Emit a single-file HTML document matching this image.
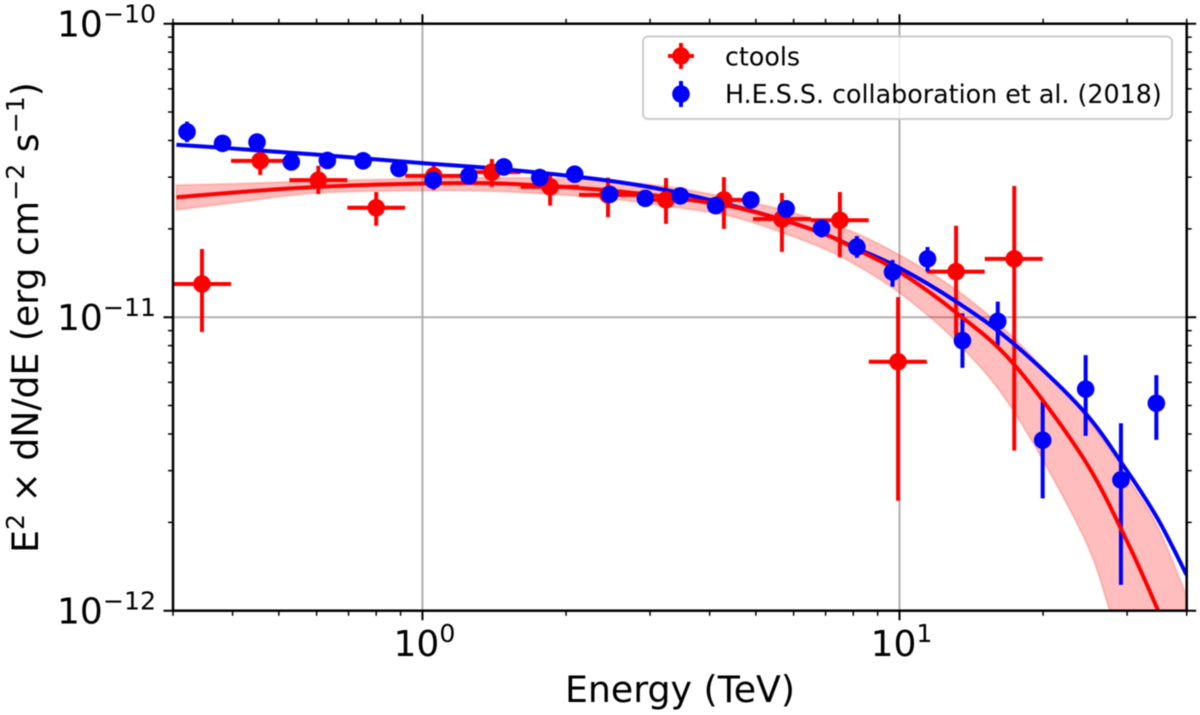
<!DOCTYPE html>
<html lang="en">
<head>
<meta charset="utf-8">
<title>Energy spectrum</title>
<style>
html,body{margin:0;padding:0;background:#fff;width:1200px;height:715px;overflow:hidden}
svg{display:block;filter:blur(0.45px)}
text{font-family:"DejaVu Sans","Liberation Sans",sans-serif;fill:#000}
</style>
</head>
<body>
<svg id="chart" xmlns="http://www.w3.org/2000/svg" width="1200" height="715" viewBox="0 0 1200 715">
  <defs><clipPath id="plot-clip"><rect x="173" y="23.7" width="1013.7" height="587"/></clipPath></defs>
  <rect x="0" y="0" width="1200" height="715" fill="#fff"/>
  <g id="grid"></g>
  <g id="marks" clip-path="url(#plot-clip)"></g>
  <g id="ticks"></g>
  <rect x="173" y="23.7" width="1013.7" height="587" fill="none" stroke="#000" stroke-width="2.5"/>
  <g id="tick-labels"></g>
  <text x="680" y="702" font-size="36.3" text-anchor="middle">Energy (TeV)</text>
  <text transform="translate(38,317.5) rotate(-90)" font-size="36.2" text-anchor="middle">E<tspan font-size="25.2" dy="-14">2</tspan><tspan dy="14"> × dN/dE (erg cm</tspan><tspan font-size="25.2" dy="-14">−2</tspan><tspan dy="14"> s</tspan><tspan font-size="25.2" dy="-14">−1</tspan><tspan dy="14">)</tspan></text>
  <g>
    <rect x="643" y="36.5" width="529" height="82.5" rx="5" ry="5" fill="#fff" fill-opacity="0.8" stroke="#ccc" stroke-width="2"/>
    <g>
      <path d="M668 56H694M681 43V69" stroke="#f00" stroke-width="4" fill="none"/>
      <circle cx="681" cy="56" r="8.8" fill="#f00"/>
      <text x="725" y="65.5" font-size="25.35">ctools</text>
    </g>
    <g>
      <path d="M681 81V107" stroke="#00f" stroke-width="4" fill="none"/>
      <circle cx="681" cy="94" r="8.8" fill="#00f"/>
      <text x="725" y="103" font-size="25.35">H.E.S.S. collaboration et al. (2018)</text>
    </g>
  </g>
</svg>
<script>
// Energies in TeV, fluxes in units of 1e-11 erg cm-2 s-1
const redEnergy=[0.345,0.457,0.605,0.80,1.056,1.398,1.852,2.449,3.24,4.285,5.67,7.50,9.93,13.14,17.4];
const redEnergyLow=[0.30,0.397,0.526,0.696,0.92,1.211,1.606,2.129,2.817,3.726,4.93,6.52,8.62,11.41,15.09];
const redEnergyHigh=[0.397,0.526,0.696,0.92,1.211,1.606,2.129,2.817,3.726,4.93,6.52,8.62,11.41,15.09,19.96];
const redFlux=[1.298,3.41,2.93,2.36,3.03,3.12,2.78,2.61,2.51,2.51,2.16,2.14,0.705,1.43,1.58];
const redFluxLow=[0.89,3.05,2.63,2.05,2.71,2.78,2.40,2.19,2.08,2.00,1.67,1.60,0.237,0.863,0.351];
const redFluxHigh=[1.707,3.77,3.28,2.67,3.35,3.46,3.05,2.99,2.98,3.00,2.65,2.67,1.17,2.05,2.80];

const blueEnergy=[0.321,0.381,0.450,0.531,0.632,0.751,0.893,1.053,1.251,1.481,1.762,2.085,2.469,2.931,3.471,4.118,4.880,5.787,6.865,8.14,9.67,11.45,13.55,16.07,19.96,24.56,29.12,34.55];
const blueFlux=[4.28,3.91,3.95,3.38,3.42,3.41,3.21,2.93,3.03,3.25,2.99,3.07,2.62,2.54,2.59,2.40,2.51,2.34,2.01,1.735,1.426,1.58,0.832,0.968,0.381,0.569,0.279,0.509];
const blueFluxLow=[3.95,3.75,3.78,3.24,3.28,3.27,3.08,2.81,2.91,3.12,2.87,2.95,2.50,2.42,2.47,2.26,2.38,2.20,1.87,1.595,1.27,1.43,0.672,0.80,0.2415,0.394,0.1224,0.382];
const blueFluxHigh=[4.64,4.08,4.13,3.52,3.56,3.55,3.34,3.05,3.15,3.38,3.11,3.19,2.74,2.66,2.71,2.54,2.64,2.48,2.15,1.89,1.567,1.735,1.03,1.13,0.515,0.743,0.435,0.635];

const curveEnergy=[0.305,0.415,0.602,1.0,1.455,2.357,3.24,4.41,5.70,7.04,8.10,10.01,13.18,17.28,24.2,29.9,34.8,40.0];
const blueCurve=[3.87,3.74,3.58,3.35,3.20,2.945,2.71,2.41,2.144,1.906,1.72,1.471,1.127,0.817,0.483,0.3015,0.2053,0.1323];
const bandUpper=[2.82,2.855,2.91,2.97,2.99,2.93,2.79,2.55,2.32,2.09,1.936,1.629,1.238,0.856,0.475,0.2877,0.1928,0.1122];
const redCurveEnergy=[0.305,0.415,0.602,1.0,1.455,2.357,3.24,4.41,5.70,7.04,8.10,10.01,13.18,17.28,24.2,29.9,34.8,36.3];
const redCurve=[2.56,2.67,2.78,2.855,2.855,2.72,2.57,2.39,2.144,1.906,1.707,1.426,1.033,0.698,0.334,0.1742,0.1006,0.0847];
const bandLowerEnergy=[0.305,0.415,0.602,1.0,1.455,2.357,3.24,4.41,5.70,7.04,8.10,10.01,13.18,17.28,24.2,27.6,29.6];
const bandLower=[2.32,2.47,2.65,2.70,2.68,2.55,2.39,2.21,1.936,1.694,1.506,1.209,0.823,0.483,0.1813,0.1,0.0706];

const xMajorTicks=[1,10];
const xMajorExponents=["0","1"];
const xMinorTicks=[0.3,0.4,0.5,0.6,0.7,0.8,0.9,2,3,4,5,6,7,8,9,20,30,40];
const yMajorTicks=[10,1,0.1];
const yMajorExponents=["−10","−11","−12"];
const yMinorTicks=[2,3,4,5,6,7,8,9,20,30,40,50,60,70,80,90,0.2,0.3,0.4,0.5,0.6,0.7,0.8,0.9];

const NS="http://www.w3.org/2000/svg";
const left=173,right=1186.7,top_=23.7,bottom=610.7;
function xScale(e){return left+Math.log10(e/0.3)/Math.log10(40/0.3)*(right-left);}
function yScale(v){return 317.2-Math.log10(v)*293.5;}
function mk(tag,attrs,parent){
  const el=document.createElementNS(NS,tag);
  for(const k in attrs){el.setAttribute(k,attrs[k]);}
  parent.appendChild(el);
  return el;
}
function smooth(pts,move){
  let d=(move?"M":"L")+pts[0][0].toFixed(2)+" "+pts[0][1].toFixed(2);
  for(let i=0;i<pts.length-1;i++){
    const p0=pts[Math.max(i-1,0)],p1=pts[i],p2=pts[i+1],p3=pts[Math.min(i+2,pts.length-1)];
    const c1x=p1[0]+(p2[0]-p0[0])/6,c1y=p1[1]+(p2[1]-p0[1])/6;
    const c2x=p2[0]-(p3[0]-p1[0])/6,c2y=p2[1]-(p3[1]-p1[1])/6;
    d+="C"+c1x.toFixed(2)+" "+c1y.toFixed(2)+" "+c2x.toFixed(2)+" "+c2y.toFixed(2)+" "+p2[0].toFixed(2)+" "+p2[1].toFixed(2);
  }
  return d;
}
function curvePoints(energies,vals){return energies.map(function(e,i){return [xScale(e),yScale(vals[i])];});}

const gridG=document.getElementById("grid");
const marks=document.getElementById("marks");
const ticksG=document.getElementById("ticks");
const labelsG=document.getElementById("tick-labels");

// grid
xMajorTicks.forEach(function(t){
  const el=mk("line",{x1:xScale(t),x2:xScale(t),y1:top_,y2:bottom,stroke:"#b0b0b0","stroke-width":2},gridG);
  
  
});
yMajorTicks.forEach(function(t){
  const el=mk("line",{x1:left,x2:right,y1:yScale(t),y2:yScale(t),stroke:"#b0b0b0","stroke-width":2},gridG);
  
  
});

// confidence band
const upperPts=curvePoints(curveEnergy,bandUpper);
const lowerPts=curvePoints(bandLowerEnergy,bandLower).reverse();
const cornerX=upperPts[upperPts.length-1][0],cornerY=lowerPts[0][1];
const band=mk("path",{d:smooth(upperPts,true)+"L"+cornerX+" "+cornerY+smooth(lowerPts,false)+"Z",fill:"#f00","fill-opacity":0.26,stroke:"#f03010","stroke-opacity":0.2,"stroke-width":2},marks);



// error bars
redEnergy.forEach(function(e,i){
  const eb=mk("path",{d:"M"+xScale(redEnergyLow[i])+" "+yScale(redFlux[i])+"H"+xScale(redEnergyHigh[i])+"M"+xScale(e)+" "+yScale(redFluxLow[i])+"V"+yScale(redFluxHigh[i]),stroke:"#f00","stroke-width":4,fill:"none"},marks);
  
  
});
blueEnergy.forEach(function(e,i){
  const eb=mk("path",{d:"M"+xScale(e)+" "+yScale(blueFluxLow[i])+"V"+yScale(blueFluxHigh[i]),stroke:"#00f","stroke-width":4,fill:"none"},marks);
  
  
});

// model curves
const blueLine=mk("path",{d:smooth(curvePoints(curveEnergy,blueCurve),true),stroke:"#00f","stroke-width":4,fill:"none"},marks);


const redLine=mk("path",{d:smooth(curvePoints(redCurveEnergy,redCurve),true),stroke:"#f00","stroke-width":4,fill:"none"},marks);



// points
redEnergy.forEach(function(e,i){
  const c=mk("circle",{cx:xScale(e),cy:yScale(redFlux[i]),r:8.8,fill:"#f00"},marks);
  
  
});
blueEnergy.forEach(function(e,i){
  const c=mk("circle",{cx:xScale(e),cy:yScale(blueFlux[i]),r:8.8,fill:"#00f"},marks);
  
  
});

// ticks
let xt="";
xMajorTicks.forEach(function(t){const x=xScale(t);xt+="M"+x+" "+(top_-9.5)+"V"+top_+"M"+x+" "+bottom+"V"+(bottom+9.5);});
const xMaj=mk("path",{d:xt,stroke:"#000","stroke-width":2,fill:"none"},ticksG);


let xm="";
xMinorTicks.forEach(function(t){const x=xScale(t);xm+="M"+x+" "+(top_-5)+"V"+top_+"M"+x+" "+bottom+"V"+(bottom+5);});
const xMin=mk("path",{d:xm,stroke:"#000","stroke-width":1.5,fill:"none"},ticksG);


let yt="";
yMajorTicks.forEach(function(t){const y=yScale(t);yt+="M"+(left-9.5)+" "+y+"H"+left+"M"+right+" "+y+"H"+(right+9.5);});
const yMaj=mk("path",{d:yt,stroke:"#000","stroke-width":2,fill:"none"},ticksG);


let ym="";
yMinorTicks.forEach(function(t){const y=yScale(t);ym+="M"+(left-5)+" "+y+"H"+left+"M"+right+" "+y+"H"+(right+5);});
const yMin=mk("path",{d:ym,stroke:"#000","stroke-width":1.5,fill:"none"},ticksG);



// tick labels
function tickLabel(x,y,anchor,exp){
  const t=mk("text",{x:x,y:y,"font-size":36,"text-anchor":anchor},labelsG);
  t.appendChild(document.createTextNode("10"));
  const s=mk("tspan",{"font-size":25.2,dy:-14},t);
  s.textContent=exp;
  return t;
}
xMajorTicks.forEach(function(v,i){
  const t=tickLabel(xScale(v)+2,656,"middle",xMajorExponents[i]);
  
  
});
yMajorTicks.forEach(function(v,i){
  const t=tickLabel(156,yScale(v)+13,"end",yMajorExponents[i]);
  
  
});
</script>
</body>
</html>
